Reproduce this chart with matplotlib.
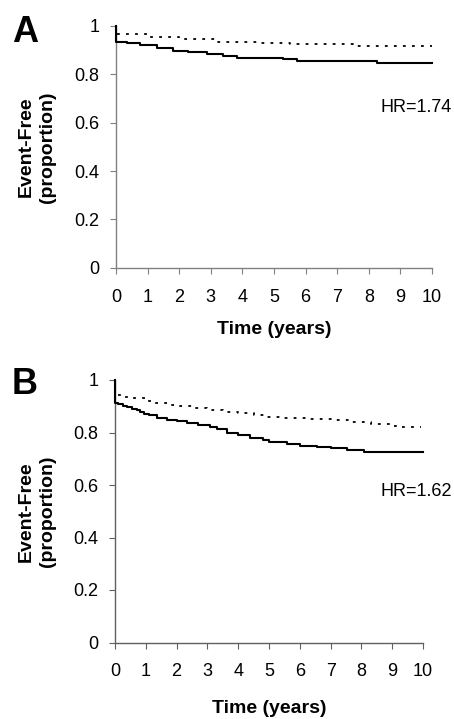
import matplotlib
matplotlib.use("Agg")
import matplotlib.pyplot as plt

plt.rcParams['font.family'] = ['Liberation Sans', 'DejaVu Sans']
plt.rcParams['lines.scale_dashes'] = False

# Panel A data (Kaplan-Meier style step curves)
a_solid_t = [0, 0.0, 0.35, 0.76, 1.29, 1.81, 2.29, 2.87, 3.40, 3.82, 5.30, 5.72, 8.26, 10]
a_solid_s = [1.0, 0.935, 0.928, 0.921, 0.908, 0.898, 0.891, 0.883, 0.876, 0.869, 0.862, 0.855, 0.846, 0.846]
a_dot_t = [0, 0.0, 1.0, 2.0, 3.2, 4.5, 5.5, 7.5, 10]
a_dot_s = [1.0, 0.966, 0.955, 0.945, 0.935, 0.928, 0.924, 0.917, 0.917]

# Panel B data
b_solid_t = [0, 0.0, 0.1, 0.25, 0.38, 0.55, 0.7, 0.81, 0.95, 1.1, 1.35, 1.68, 2.0, 2.33, 2.7,
             3.09, 3.3, 3.63, 4.0, 4.39, 4.8, 5.0, 5.58, 6.0, 6.55, 7.0, 7.53, 8.07, 10]
b_solid_s = [1.0, 0.913, 0.907, 0.902, 0.898, 0.890, 0.884, 0.879, 0.872, 0.866, 0.856, 0.848, 0.843, 0.837, 0.830,
             0.822, 0.812, 0.797, 0.789, 0.778, 0.772, 0.765, 0.755, 0.750, 0.746, 0.740, 0.733, 0.727, 0.727]
b_dot_t = [0, 0.0, 0.3, 0.6, 1.0, 1.3, 1.68, 2.0, 2.5, 3.0, 3.5, 4.0, 4.5, 4.93, 5.5, 6.2, 7.1, 7.6, 8.3, 9.04, 9.3, 9.93]
b_dot_s = [1.0, 0.943, 0.937, 0.930, 0.921, 0.912, 0.905, 0.900, 0.892, 0.887, 0.880, 0.873, 0.866, 0.860, 0.857,
           0.853, 0.848, 0.840, 0.833, 0.825, 0.822, 0.822]

x_ticks = list(range(0, 11))
y_ticks = [0, 0.2, 0.4, 0.6, 0.8, 1.0]
y_ticklabels = ['0', '0.2', '0.4', '0.6', '0.8', '1']
panel_labels = ['A', 'B']
hr_labels = ['HR=1.74', 'HR=1.62']
ylabel = 'Event-Free\n(proportion)'
xlabel = 'Time (years)'

W, H = 454, 719
fig = plt.figure(figsize=(W / 100, H / 100), dpi=100)

def px_axes(left, top, right, bottom):
    return fig.add_axes([left / W, 1 - bottom / H, (right - left) / W, (bottom - top) / H])

axA = px_axes(116, 26, 432, 267.7)
axB = px_axes(115, 380, 423, 642.5)

panels = [
    (axA, a_solid_t, a_solid_s, a_dot_t, a_dot_s, '#808080', (-0.190, 0.5), (0.5, -0.221)),
    (axB, b_solid_t, b_solid_s, b_dot_t, b_dot_s, '#606060', (-0.192, 0.5), (0.5, -0.219)),
]

for ax, st, ss, dt, ds, sc, ylc, xlc in panels:
    ax.step(st, ss, where='post', color='black', lw=1.5, zorder=3, clip_on=False)
    ax.step(dt, ds, where='post', color='black', lw=1.3, linestyle=(0, (2.0, 4.5)), zorder=3, clip_on=False)
    ax.set_xlim(0, 10)
    ax.set_ylim(0, 1)
    ax.set_xticks(x_ticks)
    ax.set_yticks(y_ticks)
    ax.set_yticklabels(y_ticklabels)
    for s in ['top', 'right']:
        ax.spines[s].set_visible(False)
    for s in ['left', 'bottom']:
        ax.spines[s].set_color(sc)
        ax.spines[s].set_linewidth(1.0)
    ax.tick_params(axis='both', direction='out', length=4, width=0.8, color=sc,
                   labelsize=13, labelcolor='black')
    ax.tick_params(axis='y', pad=8)
    ax.tick_params(axis='x', pad=11)
    ax.set_xlabel(xlabel, fontsize=14, fontweight='bold')
    ax.set_ylabel(ylabel, fontsize=14, fontweight='bold', linespacing=1.3)
    ax.yaxis.set_label_coords(*ylc)
    ax.xaxis.set_label_coords(*xlc)
    ax.patch.set_alpha(0)

fig.text(12 / W, 1 - 32 / H, panel_labels[0], fontsize=26, fontweight='bold', ha='left', va='center')
fig.text(12 / W, 1 - 384 / H, panel_labels[1], fontsize=26, fontweight='bold', ha='left', va='center')
fig.text(452 / W, 1 - 107 / H, hr_labels[0], fontsize=13, ha='right', va='center')
fig.text(452 / W, 1 - 492 / H, hr_labels[1], fontsize=13, ha='right', va='center')

fig.savefig('out.png', dpi=100)
